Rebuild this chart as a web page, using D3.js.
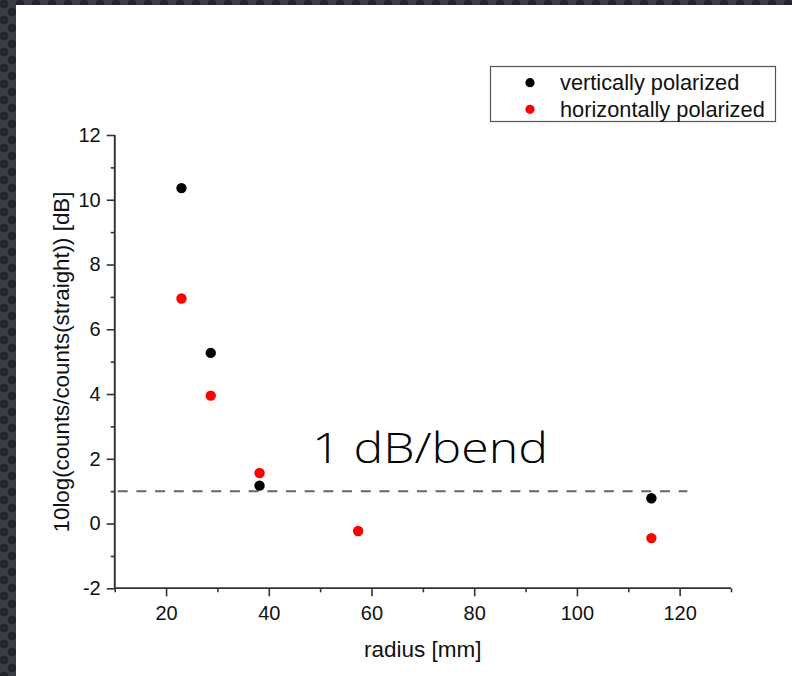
<!DOCTYPE html>
<html>
  <head>
    <meta charset="utf-8">
    <title>bend loss</title>
    <script src="https://d3js.org/d3.v7.min.js"></script>
    <style>
      body { margin: 0; background: #fff; }
    </style>
  </head>
  <body>
    <div id="chart"></div>
    <script type="text/javascript">

      // data
      var radius = [23, 28.7, 38.2, 57.4, 114.5];
      var vertical = [10.36, 5.27, 1.17, null, 0.78];
      var horizontal = [6.95, 3.95, 1.56, -0.23, -0.45];
      var seriesNames = ["vertically polarized", "horizontally polarized"];
      var seriesColors = ["#000000", "#ff0000"];
      var xTicks = [20, 40, 60, 80, 100, 120];
      var yTicks = [-2, 0, 2, 4, 6, 8, 10, 12];
      var lossLine = 1;

      var W = 792, H = 676;
      var font = "Liberation Sans, Arial, sans-serif";

      var svg = d3.select("#chart")
          .append("svg")
          .attr("width", W)
          .attr("height", H);

      // dark textured frame on the left/top
      var defs = svg.append("defs");
      var pat = defs.append("pattern")
          .attr("id", "dots")
          .attr("width", 16).attr("height", 16)
          .attr("patternUnits", "userSpaceOnUse");
      pat.append("rect").attr("width", 16).attr("height", 16).attr("fill", "#3a3d44");
      pat.append("circle").attr("cx", 4).attr("cy", 4).attr("r", 4.5).attr("fill", "#22252a");
      pat.append("circle").attr("cx", 12).attr("cy", 12).attr("r", 4.5).attr("fill", "#22252a");

      svg.append("rect").attr("width", W).attr("height", H).attr("fill", "url(#dots)");
      svg.append("rect").attr("x", 16).attr("y", 5).attr("width", W - 16).attr("height", H - 5).attr("fill", "#fff");

      var x = d3.scaleLinear().domain([10, 130]).range([114.7, 731]);
      var y = d3.scaleLinear().domain([-2, 12]).range([588.3, 135]);

      var axisColor = "#333";

      // x axis
      var gx = svg.append("g").attr("transform", "translate(0," + y(-2) + ")");
      gx.call(d3.axisBottom(x).tickValues(d3.range(10, 131, 20)).tickSize(4).tickFormat(""));
      gx.append("g").call(d3.axisBottom(x).tickValues(xTicks).tickSize(8));
      gx.selectAll(".domain").attr("stroke", axisColor).attr("stroke-width", 1.6).attr("d", "M" + x(10) + ",0H" + x(130));
      gx.selectAll("line").attr("stroke", axisColor).attr("stroke-width", 1.6);
      gx.selectAll("text").attr("font-size", 20).attr("fill", "#111")
          .attr("font-family", font).attr("dy", null).attr("y", 32);

      // y axis
      var gy = svg.append("g").attr("transform", "translate(" + x(10) + ",0)");
      gy.call(d3.axisLeft(y).tickValues(d3.range(-1, 12, 2)).tickSize(4).tickFormat(""));
      gy.append("g").call(d3.axisLeft(y).tickValues(yTicks).tickSize(8).tickPadding(6)
          .tickFormat(function(d) { return d < 0 ? "-" + Math.abs(d) : d; }));
      gy.selectAll(".domain").attr("stroke", axisColor).attr("stroke-width", 1.6).attr("d", "M0," + y(-2) + "V" + y(12));
      gy.selectAll("line").attr("stroke", axisColor).attr("stroke-width", 1.6);
      gy.selectAll("text").attr("font-size", 20).attr("fill", "#111")
          .attr("font-family", font);

      // axis titles
      svg.append("text")
          .attr("x", (x(10) + x(130)) / 2)
          .attr("y", 657)
          .attr("text-anchor", "middle")
          .attr("font-family", font)
          .attr("font-size", 22.5)
          .attr("fill", "#111")
          .text("radius [mm]");

      svg.append("text")
          .attr("transform", "translate(69," + 362 + ") rotate(-90)")
          .attr("text-anchor", "middle")
          .attr("font-family", font)
          .attr("font-size", 22.3)
          .attr("fill", "#111")
          .text("10log(counts/counts(straight)) [dB]");

      // dashed 1 dB line
      svg.append("line")
          .attr("x1", x(10)).attr("x2", x(121.5))
          .attr("y1", y(lossLine)).attr("y2", y(lossLine))
          .attr("stroke", "#666").attr("stroke-width", 2)
          .attr("stroke-dasharray", "10,8.7")
          .attr("stroke-dashoffset", -3);

      svg.append("text")
          .attr("x", 312)
          .attr("y", 463)
          .attr("font-family", "'Open Sans', Lato, sans-serif")
          .attr("font-weight", 300)
          .attr("font-size", 43)
          .attr("fill", "#000")
          .attr("textLength", 236)
          .attr("lengthAdjust", "spacingAndGlyphs")
          .text("1 dB/bend");

      // points
      var series = [vertical, horizontal];
      series.forEach(function(vals, si) {
        var pts = radius.map(function(r, i) { return {r: r, v: vals[i]}; })
            .filter(function(d) { return d.v !== null; });
        svg.append("g").selectAll("circle")
            .data(pts)
            .enter().append("circle")
            .attr("cx", function(d) { return x(d.r); })
            .attr("cy", function(d) { return y(d.v); })
            .attr("r", 5.2)
            .attr("fill", seriesColors[si]);
      });

      // legend
      var lg = svg.append("g");
      lg.append("rect")
          .attr("x", 490.5).attr("y", 66.5)
          .attr("width", 285).attr("height", 55)
          .attr("fill", "#fff").attr("stroke", "#555").attr("stroke-width", 1.2);
      seriesNames.forEach(function(name, i) {
        var cy = 82.7 + i * 26.6;
        lg.append("circle").attr("cx", 530).attr("cy", cy).attr("r", 4.6).attr("fill", seriesColors[i]);
        lg.append("text").attr("x", 560).attr("y", cy + 7.5)
            .attr("font-family", font).attr("font-size", 21.8).attr("fill", "#111").text(name);
      });

    </script>
  </body>
</html>
